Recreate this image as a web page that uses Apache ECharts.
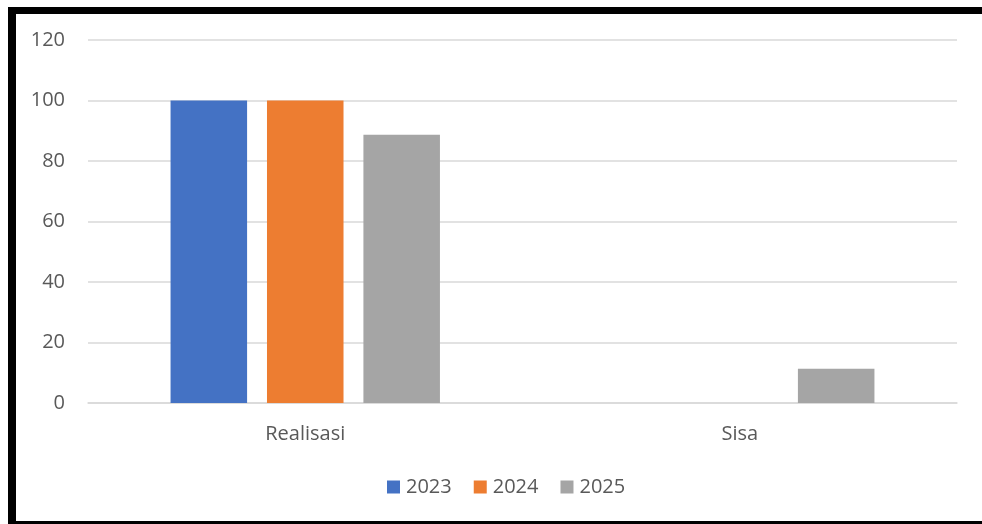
<!DOCTYPE html>
<html>
<head>
<meta charset="UTF-8">
<title>Realisasi dan Sisa</title>
<script src="https://cdn.jsdelivr.net/npm/echarts@6.0.0/dist/echarts.min.js"></script>
<style>
    html, body { margin: 0; padding: 0; background: #fff; overflow: hidden; }
    #frame { position: absolute; left: 8px; top: 7px; width: 1000px; height: 507px;
             border-left: 8px solid #000; border-top: 7px solid #000; border-bottom: 3px solid #000; }
    #chart { position: absolute; left: 0; top: 0; width: 982px; height: 524px; }
</style>
</head>
<body>
<div id="frame"></div>
<div id="chart"></div>
<script>
    const categories = ['Realisasi', 'Sisa'];
    const seriesNames = ['2023', '2024', '2025'];
    const values2023 = [100, 0];
    const values2024 = [100, 0];
    const values2025 = [88.7, 11.3];
    const colors = ['#4472c4', '#ed7d31', '#a5a5a5'];
    const yTicks = [0, 20, 40, 60, 80, 100, 120];

    const font = '"Open Sans", "Liberation Sans", sans-serif';
    const chart = echarts.init(document.getElementById('chart'));

    chart.setOption({
        animation: false,
        color: colors,
        grid: { left: 88, right: 25, top: 40, bottom: 121, containLabel: false },
        legend: {
            data: seriesNames,
            bottom: 22,
            left: 382,
            itemWidth: 13,
            itemHeight: 13,
            itemGap: 22,
            icon: 'rect',
            textStyle: { fontFamily: font, fontSize: 20, color: '#595959', padding: [0, 0, 0, 1] }
        },
        xAxis: {
            type: 'category',
            data: categories,
            axisLine: { lineStyle: { color: '#d9d9d9', width: 1.5 } },
            axisTick: { show: false },
            axisLabel: { margin: 21, fontFamily: font, fontSize: 20, color: '#595959' }
        },
        yAxis: {
            type: 'value',
            min: yTicks[0],
            max: yTicks[yTicks.length - 1],
            interval: 20,
            axisLine: { show: false },
            axisTick: { show: false },
            splitLine: { lineStyle: { color: '#d9d9d9', width: 1.5 } },
            axisLabel: { margin: 23, fontFamily: font, fontSize: 20, color: '#595959' }
        },
        series: [
            { name: seriesNames[0], type: 'bar', data: values2023, barGap: '26%', barCategoryGap: '38%' },
            { name: seriesNames[1], type: 'bar', data: values2024, barGap: '26%', barCategoryGap: '38%' },
            { name: seriesNames[2], type: 'bar', data: values2025, barGap: '26%', barCategoryGap: '38%' }
        ]
    });
</script>
</body>
</html>
